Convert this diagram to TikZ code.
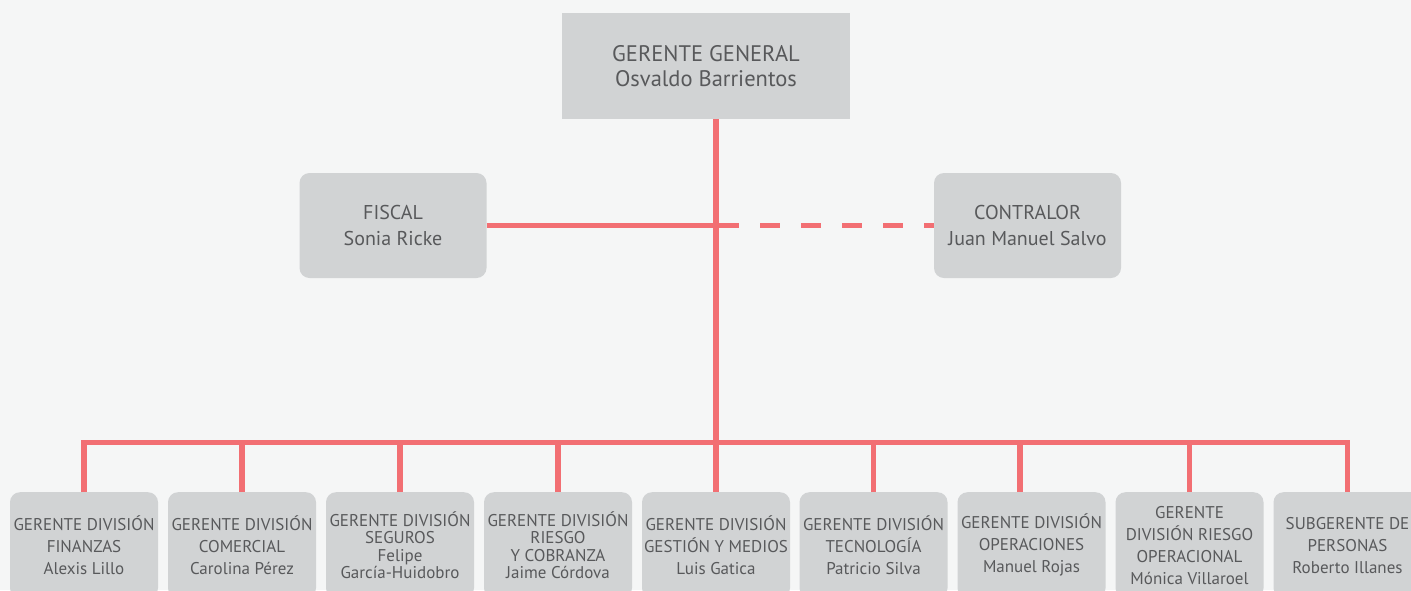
\documentclass[tikz,border=0pt]{standalone}
\usepackage{fontspec}
\setmainfont{PT Sans}
\usetikzlibrary{positioning}
\definecolor{bggray}{HTML}{F5F6F6}
\definecolor{boxgray}{HTML}{D1D3D4}
\definecolor{linered}{HTML}{F26F73}
\definecolor{txtgray}{HTML}{58595B}
\tikzset{
  basebox/.style={fill=boxgray, text=txtgray, align=center, inner sep=0pt},
  topbox/.style={basebox, minimum width=288, minimum height=106, font=\fontsize{22.5}{25}\selectfont},
  sidebox/.style={basebox, rounded corners=10, minimum width=187, minimum height=105, font=\fontsize{20}{26}\selectfont},
  divbox/.style={basebox, rounded corners=10, minimum width=148, minimum height=106, anchor=north, font=\fontsize{17}{22}\selectfont},
  tightbox/.style={font=\fontsize{17}{17.5}\selectfont},
  link/.style={draw=linered, line width=5.5},
  dashlink/.style={link, dash pattern=on 20 off 21}
}
\begin{document}
\begin{tikzpicture}[x=1pt,y=-1pt]
\useasboundingbox (0,0) rectangle (1411,590);
\fill[bggray] (0,0) rectangle (1411,590);
\clip (0,0) rectangle (1411,590);
% coordinates of the lines
\coordinate (hub) at (716,225.5);
\coordinate (bus) at (716,442.5);
% boxes
\node[topbox] (gg) at (706,66) {GERENTE GENERAL\\Osvaldo Barrientos};
\node[sidebox] (fiscal) at (393,225.5) {FISCAL\\Sonia Ricke};
\node[sidebox] (contralor) at (1027.5,225.5) {CONTRALOR\\Juan Manuel Salvo};
\node[divbox] (d1) at (84,492) {GERENTE DIVISIÓN\\FINANZAS\\Alexis Lillo};
\node[divbox] (d2) at (242,492) {GERENTE DIVISIÓN\\COMERCIAL\\Carolina Pérez};
\node[divbox,tightbox] (d3) at (400,492) {GERENTE DIVISIÓN\\SEGUROS\\Felipe\\García-Huidobro};
\node[divbox,tightbox] (d4) at (558,492) {GERENTE DIVISIÓN\\RIESGO\\Y COBRANZA\\Jaime Córdova};
\node[divbox] (d5) at (716,492) {GERENTE DIVISIÓN\\GESTIÓN Y MEDIOS\\Luis Gatica};
\node[divbox] (d6) at (873.5,492) {GERENTE DIVISIÓN\\TECNOLOGÍA\\Patricio Silva};
\node[divbox] (d7) at (1031.5,492) {GERENTE DIVISIÓN\\OPERACIONES\\Manuel Rojas};
\node[divbox] (d8) at (1189.5,492) {GERENTE\\DIVISIÓN RIESGO\\OPERACIONAL\\Mónica Villaroel};
\node[divbox] (d9) at (1347.5,492) {SUBGERENTE DE\\PERSONAS\\Roberto Illanes};
% lines
\draw[link] (gg.south -| hub) -- (d5.north);
\draw[link] (fiscal.east) -- (hub);
\draw[dashlink] ([xshift=3]hub) -- (contralor.west);
\draw[link] (d1.north) -- (d1.north |- bus) -- (d9.north |- bus) -- (d9.north);
\draw[link] (d2.north) -- (d2.north |- bus);
\draw[link] (d3.north) -- (d3.north |- bus);
\draw[link] (d4.north) -- (d4.north |- bus);
\draw[link] (d6.north) -- (d6.north |- bus);
\draw[link] ([xshift=-11.5]d7.north) -- ([xshift=-11.5]d7.north |- bus);
\draw[link] (d8.north) -- (d8.north |- bus);
\end{tikzpicture}
\end{document}
